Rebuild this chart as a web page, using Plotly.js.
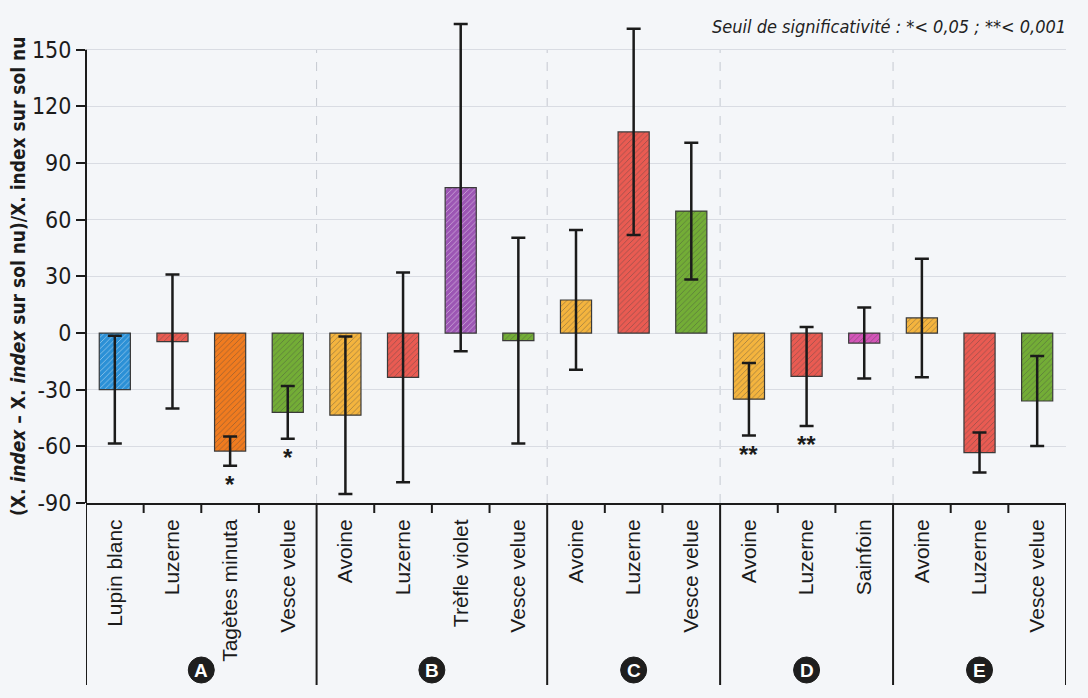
<!DOCTYPE html>
<html>
<head>
<meta charset="utf-8">
<script src="https://cdn.plot.ly/plotly-3.0.1.min.js"></script>
<style>
  html, body { margin: 0; padding: 0; background: #f4f6f9; }
  #chart { width: 1088px; height: 698px; }
</style>
</head>
<body>
<div id="chart"></div>
<script>
// ---- data ----
const categories = ['Lupin blanc', 'Luzerne', 'Tagètes minuta', 'Vesce velue',
                    'Avoine', 'Luzerne', 'Trèfle violet', 'Vesce velue',
                    'Avoine', 'Luzerne', 'Vesce velue',
                    'Avoine', 'Luzerne', 'Sainfoin',
                    'Avoine', 'Luzerne', 'Vesce velue'];
const groups = ['A', 'A', 'A', 'A',
                'B', 'B', 'B', 'B',
                'C', 'C', 'C',
                'D', 'D', 'D',
                'E', 'E', 'E'];
const values = [-30, -4.5, -62.5, -42,
                -43.5, -23.5, 77, -4,
                17.5, 106.5, 64.6,
                -35, -23, -5.3,
                8, -63.3, -36];
const errors = [28.5, 35.5, 7.75, 14,
                41.7, 55.5, 86.7, 54.5,
                37, 54.6, 36.2,
                19.2, 26.2, 18.8,
                31.4, 10.6, 23.8];
const significance = ['', '', '*', '*',
                      '', '', '', '',
                      '', '', '',
                      '**', '**', '',
                      '', '', ''];
const yTicks = [-90, -60, -30, 0, 30, 60, 90, 120, 150];
const yTickText = ['-90', '-60', '-30', '0', '30', '60', '90', '120', '150'];
const noteText = 'Seuil de significativité : *< 0,05 ; **< 0,001';
const yTitle = '(X. <i>index</i> – X. <i>index</i> sur sol nu)/X. index sur sol nu';

// ---- styling ----
const plantColors = {
  'Lupin blanc': '#2b90d6',
  'Luzerne': '#e95b52',
  'Tagètes minuta': '#f07b1f',
  'Vesce velue': '#73ad36',
  'Avoine': '#f4b43e',
  'Trèfle violet': '#9c56b4',
  'Sainfoin': '#d455b9'
};
const barColors = categories.map(c => plantColors[c]);
const narrow = 'Liberation Sans Narrow, Arial Narrow, DejaVu Sans Condensed, sans-serif';
const regular = 'Liberation Sans, Arial, Helvetica, sans-serif';
const ink = '#1b1b1b';

const W = 1088, H = 698;
const margin = {l: 86, r: 22, t: 12, b: 195};
const plotH = H - margin.t - margin.b;
const below = px => -px / plotH;   // paper y for px below the x axis
const xs = categories.map((_, i) => i);

const trace = {
  type: 'bar',
  x: xs,
  y: values,
  width: 0.54,
  marker: {
    color: barColors,
    line: {color: '#3a3a3a', width: 1.2},
    pattern: {shape: '/', size: 4, solidity: 0.2, fgcolor: 'rgba(0,0,0,0.13)', bgcolor: barColors, fillmode: 'overlay'}
  },
  error_y: {type: 'data', array: errors, visible: true, color: ink, thickness: 2.5, width: 7},
  hoverinfo: 'x+y'
};

const shapes = [];
const annotations = [];

// y axis line (only up to 150)
shapes.push({type: 'line', xref: 'paper', yref: 'y', x0: 0, x1: 0, y0: -90, y1: 150,
             line: {color: ink, width: 2}});

// group boundaries
const boundaries = [-0.5];
for (let i = 0; i < groups.length - 1; i++) {
  if (groups[i] !== groups[i + 1]) boundaries.push(i + 0.5);
}
boundaries.push(groups.length - 0.5);

boundaries.forEach((b, k) => {
  shapes.push({type: 'line', xref: 'x', yref: 'paper', x0: b, x1: b, y0: 0, y1: below(182),
               line: {color: ink, width: 2}});
  if (k > 0 && k < boundaries.length - 1) {
    shapes.push({type: 'line', xref: 'x', yref: 'y', x0: b, x1: b, y0: -90, y1: 150,
                 line: {color: '#c5c9d1', width: 1, dash: 'dash'}, layer: 'below'});
  }
});

// small ticks between categories inside a group
for (let i = 0; i < groups.length - 1; i++) {
  if (groups[i] === groups[i + 1]) {
    shapes.push({type: 'line', xref: 'x', yref: 'paper', x0: i + 0.5, x1: i + 0.5, y0: 0, y1: below(10),
                 line: {color: ink, width: 2}});
  }
}

// group letters in black discs
for (let k = 0; k < boundaries.length - 1; k++) {
  const cx = (boundaries[k] + boundaries[k + 1]) / 2;
  const letter = groups[Math.round(boundaries[k] + 0.5)];
  const cy = below(167);
  shapes.push({type: 'circle', xref: 'x', yref: 'paper', xsizemode: 'pixel', ysizemode: 'pixel',
               xanchor: cx, yanchor: cy, x0: -13, x1: 13, y0: -13, y1: 13,
               fillcolor: '#1e1e1e', line: {color: '#1e1e1e', width: 1}});
  annotations.push({xref: 'x', yref: 'paper', x: cx, y: cy, text: '<b>' + letter + '</b>', showarrow: false,
                    xanchor: 'center', yanchor: 'middle', font: {family: regular, size: 19, color: '#ffffff'}});
}

// significance stars
significance.forEach((s, i) => {
  if (!s) return;
  annotations.push({xref: 'x', yref: 'y', x: i, y: values[i] - errors[i], text: '<b>' + s + '</b>',
                    showarrow: false, xanchor: 'center', yanchor: 'middle', yshift: -19,
                    font: {family: regular, size: 24, color: ink}});
});

// y axis title
annotations.push({xref: 'paper', yref: 'paper', x: 0, xshift: -68, y: (503 - 277) / plotH,
                  text: '<b>' + yTitle + '</b>', textangle: -90, showarrow: false,
                  xanchor: 'center', yanchor: 'middle', font: {family: narrow, size: 19, color: ink}});

// significance note
annotations.push({xref: 'paper', yref: 'paper', x: 1, xshift: 2, y: (503 - 26) / plotH,
                  text: '<i>' + noteText + '</i>', showarrow: false, xanchor: 'right', yanchor: 'middle',
                  font: {family: narrow, size: 18, color: '#222'}});

const layout = {
  width: W, height: H,
  margin: margin,
  paper_bgcolor: '#f4f6f9',
  plot_bgcolor: '#f4f6f9',
  showlegend: false,
  xaxis: {
    range: [-0.5, categories.length - 0.5],
    tickvals: xs, ticktext: categories,
    tickangle: -90,
    ticks: '', ticklabelstandoff: 6,
    showgrid: false, zeroline: false,
    showline: true, linecolor: ink, linewidth: 2,
    tickfont: {family: regular, size: 21, color: ink},
    fixedrange: true
  },
  yaxis: {
    range: [-90, 170],
    tickvals: yTicks, ticktext: yTickText,
    ticks: 'outside', ticklen: 9, tickwidth: 2, tickcolor: ink,
    showgrid: true, gridcolor: '#d9dce3', gridwidth: 1,
    zeroline: false, showline: false,
    tickfont: {family: narrow, size: 23, color: ink},
    fixedrange: true
  },
  shapes: shapes,
  annotations: annotations
};

Plotly.newPlot('chart', [trace], layout, {displayModeBar: false, staticPlot: true});
</script>
</body>
</html>
